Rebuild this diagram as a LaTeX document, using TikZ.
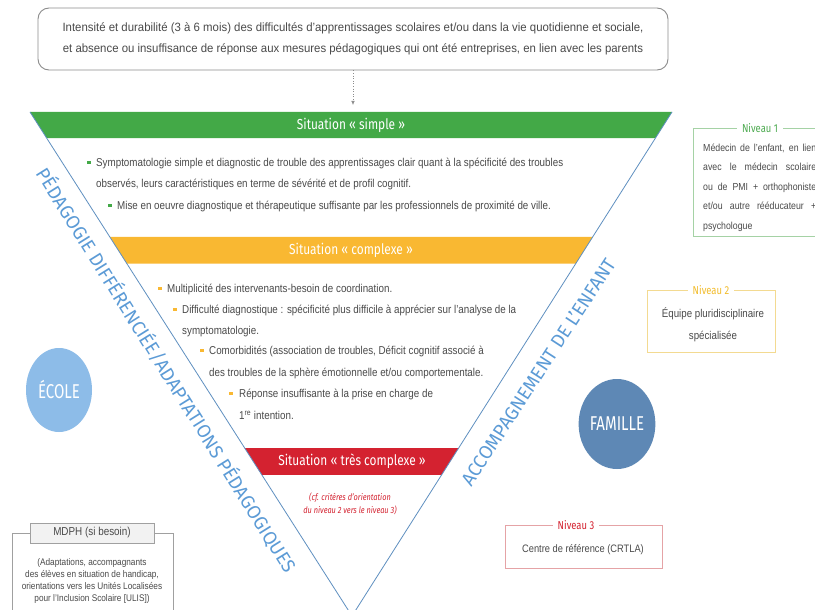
\documentclass[tikz,border=0pt]{standalone}
\usepackage{fontspec}
\setmainfont{Liberation Sans}
\newfontfamily\bodyf[FakeStretch=0.86]{Liberation Sans}
\newfontfamily\topf[FakeStretch=0.95]{Liberation Sans}
\newfontfamily\headf[FakeStretch=0.82]{Fira Sans}
\newfontfamily\sidef[FakeStretch=0.98]{Fira Sans}
\newfontfamily\circf[FakeStretch=0.75]{Fira Sans}
\usetikzlibrary{calc,arrows.meta,shapes.geometric}
\definecolor{txtgrey}{HTML}{4A4A4A}
\definecolor{boxgrey}{HTML}{8C8C8C}
\definecolor{bandgreen}{HTML}{43A947}
\definecolor{bandorange}{HTML}{F9B832}
\definecolor{bandred}{HTML}{D42230}
\definecolor{edgeblue}{HTML}{5E8FC0}
\definecolor{sideblue}{HTML}{5C9BD6}
\definecolor{ecolefill}{HTML}{8DBCE8}
\definecolor{famillefill}{HTML}{5E88B5}
\definecolor{nivgreen}{HTML}{A5D2A5}
\definecolor{nivgreentxt}{HTML}{4DAA50}
\definecolor{nivyellow}{HTML}{F3DA91}
\definecolor{nivyellowtxt}{HTML}{F2BC2C}
\definecolor{nivred}{HTML}{E5A3A6}
\definecolor{mdphgrey}{HTML}{A0A0A0}
\definecolor{mdphfill}{HTML}{F2F2F2}
\begin{document}
\begin{tikzpicture}[x=1pt,y=-1pt,
  topbox/.style={draw=boxgrey, line width=0.9pt, rounded corners=11pt, minimum width=630pt, minimum height=62pt, align=center, text=txtgrey, font=\topf\fontsize{12}{21}\selectfont},
  body/.style={anchor=base west, inner sep=0pt, text=txtgrey, font=\bodyf\fontsize{11.4}{12}\selectfont},
  bul/.style={rectangle, inner sep=0pt, minimum size=3.4pt},
  bandlabel/.style={text=white, inner sep=0pt, font=\headf\fontsize{14.5}{16}\selectfont},
  sidelabel/.style={text=sideblue, inner sep=0pt, font=\sidef\fontsize{19}{20}\selectfont},
  edge/.style={draw=edgeblue, line width=0.8pt},
  circ/.style={ellipse, text=white, inner sep=0pt, font=\circf\fontsize{20}{22}\selectfont},
  nivbox/.style={line width=0.9pt},
  nivtitle/.style={fill=white, inner xsep=5pt, inner ysep=1pt, font=\headf\fontsize{11.5}{12}\selectfont},
  nivtxt/.style={inner sep=0pt, text=txtgrey, font=\bodyf\fontsize{10.2}{12}\selectfont},
  smalltxt/.style={inner sep=0pt, text=txtgrey, font=\bodyf\fontsize{8}{10}\selectfont}
]
\useasboundingbox (0,0) rectangle (815,610);
\clip (0,0) rectangle (815,610);
\fill[white] (0,0) rectangle (815,610);

% top box
\node[topbox] (top) at (353,39) {Intensité et durabilité (3 à 6 mois) des difficultés d’apprentissages scolaires et/ou dans la vie quotidienne et sociale,\\ et absence ou insuffisance de réponse aux mesures pédagogiques qui ont été entreprises, en lien avec les parents};
\coordinate (arrend) at (353,105);
\draw[boxgrey, line width=0.6pt, dotted, -{Latex[length=4pt,width=3.5pt]}] (top.south) -- (arrend);

% triangle
\coordinate (TL) at (30,112);
\coordinate (TR) at (672,112);
\coordinate (V) at (352,616);
\fill[bandgreen] (TL) -- (TR) -- ($(TR)!0.0516!(V)$) -- ($(TL)!0.0516!(V)$) -- cycle;
\fill[bandorange] ($(TL)!0.248!(V)$) -- ($(TR)!0.248!(V)$) -- ($(TR)!0.3006!(V)$) -- ($(TL)!0.3006!(V)$) -- cycle;
\fill[bandred] ($(TL)!0.6667!(V)$) -- ($(TR)!0.6667!(V)$) -- ($(TR)!0.7202!(V)$) -- ($(TL)!0.7202!(V)$) -- cycle;
\draw[edge] (TL) -- (V) -- (TR);

\node[bandlabel] (simple) at (351,125) {Situation « simple »};
\node[bandlabel] (complexe) at (351,250) {Situation « complexe »};
\node[bandlabel] (trescomplexe) at (352,461.5) {Situation « très complexe »};

% green section
\node[bul, fill=bandgreen] (bg1) at (89,162.5) {};
\node[body] (g1) at (96,166) {Symptomatologie simple et diagnostic de trouble des apprentissages clair quant à la spécificité des troubles};
\node[body] (g2) at (96,187.5) {observés, leurs caractéristiques en terme de sévérité et de profil cognitif.};
\node[bul, fill=bandgreen] (bg2) at (110,205.5) {};
\node[body] (g3) at (117,209) {Mise en oeuvre diagnostique et thérapeutique suffisante par les professionnels de proximité de ville.};

% orange section
\node[bul, fill=bandorange] (bo1) at (160,288.5) {};
\node[body] (o1) at (167,292) {Multiplicité des intervenants-besoin de coordination.};
\node[bul, fill=bandorange] (bo2) at (175,309.5) {};
\node[body] (o2) at (182,313) {Difficulté diagnostique : spécificité plus difficile à apprécier sur l’analyse de la};
\node[body] (o3) at (182,334.5) {symptomatologie.};
\node[bul, fill=bandorange] (bo3) at (202,350.5) {};
\node[body] (o4) at (209,354) {Comorbidités (association de troubles, Déficit cognitif associé à};
\node[body] (o5) at (209,376) {des troubles de la sphère émotionnelle et/ou comportementale.};
\node[bul, fill=bandorange] (bo4) at (231,393.5) {};
\node[body] (o6) at (239,397) {Réponse insuffisante à la prise en charge de};
\node[body] (o7) at (239,419) {1\textsuperscript{re} intention.};

% red section
\node[inner sep=0pt, text=bandred, font=\headf\itshape\fontsize{9}{13}\selectfont, align=center] (cf) at (350,504) {(cf. critères d’orientation\\du niveau 2 vers le niveau 3)};

% side labels
\node[sidelabel, rotate=-58] (peda) at (167,370) {PÉDAGOGIE DIFFÉRENCIÉE/ADAPTATIONS PÉDAGOGIQUES};
\node[sidelabel, rotate=57] (accomp) at (538,372) {ACCOMPAGNEMENT DE L’ENFANT};

% circles
\node[circ, fill=ecolefill, minimum width=66pt, minimum height=84pt] (ecole) at (59,390) {ÉCOLE};
\node[circ, fill=famillefill, minimum width=74pt, minimum height=90pt] (famille) at (617,424) {FAMILLE};

% Niveau 1
\draw[nivbox, draw=nivgreen] (693,128) rectangle (835,236);
\node[nivtitle, text=nivgreentxt] (n1) at (760,128) {Niveau 1};
\node[nivtxt, anchor=base west] (n1a) at (703,151) {\makebox[113pt][s]{Médecin de l’enfant, en lien}};
\node[nivtxt, anchor=base west] (n1b) at (703,170.5) {\makebox[113pt][s]{avec le médecin scolaire}};
\node[nivtxt, anchor=base west] (n1c) at (703,190) {\makebox[113pt][s]{ou de PMI + orthophoniste}};
\node[nivtxt, anchor=base west] (n1d) at (703,209.5) {\makebox[113pt][s]{et/ou autre rééducateur +}};
\node[nivtxt, anchor=base west] (n1e) at (703,229) {psychologue};

% Niveau 2
\draw[nivbox, draw=nivyellow] (647,290) rectangle (775,352);
\node[nivtitle, text=nivyellowtxt] (n2) at (711,290) {Niveau 2};
\node[nivtxt, align=center, font=\bodyf\fontsize{11.3}{22}\selectfont] (n2t) at (713,325) {Équipe pluridisciplinaire\\spécialisée};

% Niveau 3
\draw[nivbox, draw=nivred] (505,525) rectangle (662,568);
\node[nivtitle, text=bandred] (n3) at (576,525) {Niveau 3};
\node[nivtxt, font=\bodyf\fontsize{10.8}{12}\selectfont] (n3t) at (583,550) {Centre de référence (CRTLA)};

% MDPH
\draw[nivbox, draw=mdphgrey] (12,533) rectangle (173,620);
\node[draw=mdphgrey, fill=mdphfill, line width=0.9pt, minimum width=124pt, minimum height=20pt, inner sep=0pt, text=txtgrey, font=\bodyf\fontsize{11.5}{12}\selectfont] (mdph) at (92,533) {MDPH (si besoin)};
\node[smalltxt, align=center, font=\bodyf\fontsize{9.6}{12}\selectfont] (mdpht) at (92,581) {(Adaptations, accompagnants\\des élèves en situation de handicap,\\orientations vers les Unités Localisées\\pour l’Inclusion Scolaire [ULIS])};
\end{tikzpicture}
\end{document}
